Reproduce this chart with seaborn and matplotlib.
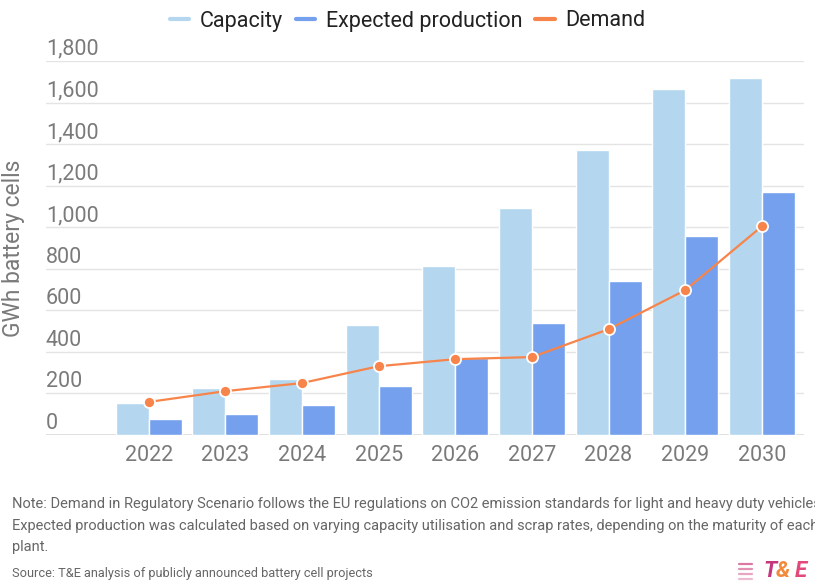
import matplotlib
matplotlib.use("Agg")
import matplotlib.pyplot as plt
import matplotlib.transforms as mtransforms
from matplotlib.lines import Line2D
import seaborn as sns
import pandas as pd

years = ["2022", "2023", "2024", "2025", "2026", "2027", "2028", "2029", "2030"]
capacity = [154, 226, 269, 528, 815, 1091, 1374, 1667, 1720]
production = [77, 101, 144, 235, 370, 538, 740, 956, 1168]
demand = [159, 211, 250, 331, 365, 375, 509, 697, 1004]
y_ticks = [0, 200, 400, 600, 800, 1000, 1200, 1400, 1600, 1800]
y_tick_labels = ["0", "200", "400", "600", "800", "1,000", "1,200", "1,400", "1,600", "1,800"]
series_names = ["Capacity", "Expected production", "Demand"]
colors = {"Capacity": "#b4d7ef", "Expected production": "#74a0ee", "Demand": "#f7844a"}

note_lines = [
    "Note: Demand in Regulatory Scenario follows the EU regulations on CO2 emission standards for light and heavy duty vehicles",
    "Expected production was calculated based on varying capacity utilisation and scrap rates, depending on the maturity of each",
    "plant.",
]
source_text = "Source: T&E analysis of publicly announced battery cell projects"

sns.set_theme(style="white")
plt.rcParams["font.family"] = ["Roboto", "DejaVu Sans"]

fig = plt.figure(figsize=(8.15, 5.81), dpi=100)
ax = fig.add_axes([46 / 815, 146 / 581, 758 / 815, 374 / 581])

bars = pd.DataFrame({
    "year": years * 2,
    "value": capacity + production,
    "series": ["Capacity"] * len(years) + ["Expected production"] * len(years),
})
sns.barplot(data=bars, x="year", y="value", hue="series", order=years,
            hue_order=series_names[:2], palette=colors, width=0.86,
            edgecolor="white", linewidth=1, saturation=1, ax=ax, legend=False, zorder=2)

dem = pd.DataFrame({"year": years, "value": demand})
sns.lineplot(data=dem, x="year", y="value", color=colors["Demand"], lw=1.6,
             marker="o", markersize=8, markeredgecolor="white", markeredgewidth=1.3,
             ax=ax, zorder=4)

ax.set_xlim(-1.34, 8.55)
ax.set_ylim(0, 1800)
ax.set_yticks(y_ticks)
ax.set_yticklabels([])
ax.tick_params(axis="y", length=0)
ax.yaxis.grid(True, color="#e4e4e4", lw=1, zorder=0)
ax.set_axisbelow(True)
for s in ax.spines.values():
    s.set_visible(False)
ax.axhline(0, color="#dcdcdc", lw=1.2, zorder=1)

trans = mtransforms.blended_transform_factory(ax.transAxes, ax.transData)
off = mtransforms.offset_copy(trans, fig=fig, x=0, y=0.8, units="points")
for v, lab in zip(y_ticks, y_tick_labels):
    ax.text(0, v, lab, transform=off, ha="left", va="bottom",
            fontsize=15.5, color="#7a7a7a")

ax.tick_params(axis="x", length=0, pad=7, labelsize=15.5, labelcolor="#7a7a7a")
ax.set_xlabel("")
ax.set_ylabel("GWh battery cells", fontsize=16.5, color="#7a7a7a")
ax.yaxis.set_label_coords(-0.028, 0.5)

handles = [Line2D([0], [0], color=colors[n], lw=3) for n in series_names]
fig.legend(handles, series_names, loc="center", bbox_to_anchor=(0.5, 1 - 21 / 581),
           ncol=3, frameon=False, fontsize=15.5, handlelength=0.9,
           handletextpad=0.5, columnspacing=0.6, labelcolor="#222222")

ys = [1 - 504 / 581, 1 - 526 / 581, 1 - 547 / 581]
for y, t in zip(ys, note_lines):
    fig.text(12 / 815, y, t, fontsize=10.5, color="#666666", ha="left", va="center")
fig.text(12 / 815, 1 - 573 / 581, source_text, fontsize=9.2, color="#666666",
         ha="left", va="center")

# logo
fig.text(763 / 815, 1 - 571 / 581, "T", fontsize=16, fontweight="bold", style="italic",
         color="#c4377f", ha="left", va="center")
fig.text(776 / 815, 1 - 571 / 581, "&", fontsize=16, fontweight="bold", style="italic",
         color="#f28a3c", ha="left", va="center")
fig.text(795 / 815, 1 - 571 / 581, "E", fontsize=16, fontweight="bold", style="italic",
         color="#e3487a", ha="left", va="center")
for i, yy in enumerate([564, 569, 574, 579]):
    fig.add_artist(Line2D([739 / 815, 752 / 815], [1 - yy / 581, 1 - yy / 581],
                          color="#d76a9a", lw=1.6, alpha=0.9 - 0.15 * i))

fig.savefig("out.png", dpi=100)
